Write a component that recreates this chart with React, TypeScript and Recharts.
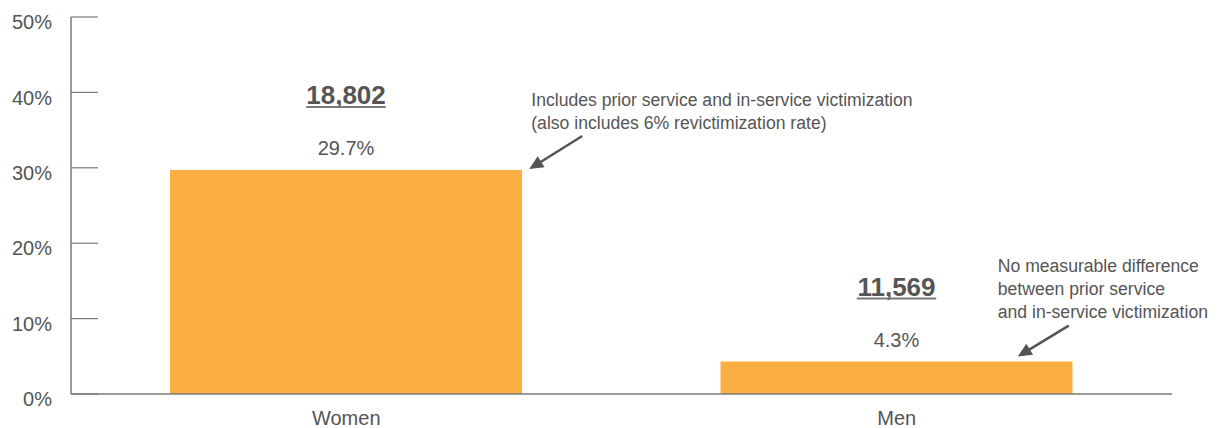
import React from "react";
import { BarChart, Bar, XAxis, YAxis, LabelList, ReferenceDot } from "recharts";

const categories = ["Women", "Men"];
const percentValues = [29.7, 4.3];
const countValues = [18802, 11569];
const yTicks = [0, 10, 20, 30, 40, 50];
const annotationLines = [
  ["Includes prior service and in-service victimization", "(also includes 6% revictimization rate)"],
  ["No measurable difference", "between prior service", "and in-service victimization"],
];

const data = categories.map((c, i) => ({ name: c, pct: percentValues[i], count: countValues[i] }));

const FONT = "'Liberation Sans', Arial, Helvetica, sans-serif";
const TEXT = "#555555";
const AXIS = "#7a7a7a";
const BAR = "#FBAF42";

const fmtCount = (v: number) => v.toLocaleString("en-US");

function Arrow({ x1, y1, x2, y2 }: { x1: number; y1: number; x2: number; y2: number }) {
  const dx = x2 - x1, dy = y2 - y1;
  const len = Math.sqrt(dx * dx + dy * dy);
  const ux = dx / len, uy = dy / len;
  const head = 14, half = 6.5;
  const bx = x2 - ux * head, by = y2 - uy * head;
  const px = -uy, py = ux;
  return (
    <g>
      <line x1={x1} y1={y1} x2={bx + ux * 2} y2={by + uy * 2} stroke={TEXT} strokeWidth={2.5} />
      <polygon points={`${x2},${y2} ${bx + px * half},${by + py * half} ${bx - px * half},${by - py * half}`} fill={TEXT} />
    </g>
  );
}

const YTick = (props: any) => {
  const { x, y, payload } = props;
  return (
    <g>
      <line x1={x + 19} x2={x + 46} y1={y} y2={y} stroke={AXIS} strokeWidth={1.2} />
      <text x={x} y={y + 5} dy="0.355em" textAnchor="end" fill={TEXT} fontSize={20} fontFamily={FONT}>
        {payload.value}%
      </text>
    </g>
  );
};

const PctLabel = (props: any) => {
  const { x, y, width, value } = props;
  return (
    <text x={x + width / 2} y={y - 22} dy="0.355em" textAnchor="middle" fill={TEXT} fontSize={20} fontFamily={FONT}>
      {value}%
    </text>
  );
};

const CountLabel = (props: any) => {
  const { x, y, width, value } = props;
  const cx = x + width / 2;
  const s = fmtCount(value);
  const fs = 26;
  let em = 0;
  for (const ch of s) em += ch === "," ? 0.278 : 0.556;
  const w = em * fs;
  return (
    <g>
      <text x={cx} y={y - 75} dy="0.355em" textAnchor="middle" fill={TEXT} fontSize={fs} fontWeight="bold" fontFamily={FONT}>
        {s}
      </text>
      <line x1={cx - w / 2} x2={cx + w / 2} y1={y - 63} y2={y - 63} stroke={AXIS} strokeWidth={2} />
    </g>
  );
};

const WomenNote = (props: any) => {
  const { cx, cy } = props;
  return (
    <g>
      {annotationLines[0].map((t, i) => (
        <text key={i} x={cx + 185} y={cy - 70 + i * 23} dy="0.355em" fill={TEXT} fontSize={17.6} fontFamily={FONT}>
          {t}
        </text>
      ))}
      <Arrow x1={cx + 236} y1={cy - 34} x2={cx + 183} y2={cy - 1} />
    </g>
  );
};

const MenNote = (props: any) => {
  const { cx, cy } = props;
  return (
    <g>
      {annotationLines[1].map((t, i) => (
        <text key={i} x={cx + 101} y={cy - 96 + i * 23} dy="0.355em" fill={TEXT} fontSize={17.6} fontFamily={FONT}>
          {t}
        </text>
      ))}
      <Arrow x1={cx + 172} y1={cy - 36} x2={cx + 121} y2={cy - 5} />
    </g>
  );
};

export default function App() {
  return (
    <div style={{ position: "absolute", left: 0, top: 0, width: 1220, height: 428, background: "#fff" }}>
      <BarChart width={1220} height={428} data={data} margin={{ top: 17, right: 48, bottom: 0, left: 0 }}>
        <XAxis
          dataKey="name"
          height={34}
          axisLine={{ stroke: AXIS, strokeWidth: 1.5 }}
          tickLine={false}
          tickSize={0}
          tickMargin={17}
          tick={{ fill: TEXT, fontSize: 20, fontFamily: FONT }}
        />
        <XAxis
          xAxisId="bounds"
          type="number"
          domain={[0, 2]}
          ticks={[1, 2]}
          mirror
          axisLine={false}
          tickSize={9}
          tickLine={{ stroke: AXIS, strokeWidth: 1.2 }}
          tick={() => <g />}
          height={0}
        />
        <YAxis
          width={71}
          domain={[0, 50]}
          ticks={yTicks}
          interval={0}
          tickSize={0}
          tickMargin={19}
          tickLine={false}
          axisLine={{ stroke: AXIS, strokeWidth: 1.5 }}
          tick={<YTick />}
        />
        <Bar dataKey="pct" fill={BAR} barSize={352} isAnimationActive={false}>
          <LabelList dataKey="pct" content={<PctLabel />} />
          <LabelList dataKey="count" content={<CountLabel />} />
        </Bar>
        <ReferenceDot x="Women" y={percentValues[0]} shape={<WomenNote />} ifOverflow="visible" />
        <ReferenceDot x="Men" y={percentValues[1]} shape={<MenNote />} ifOverflow="visible" />
      </BarChart>
    </div>
  );
}
